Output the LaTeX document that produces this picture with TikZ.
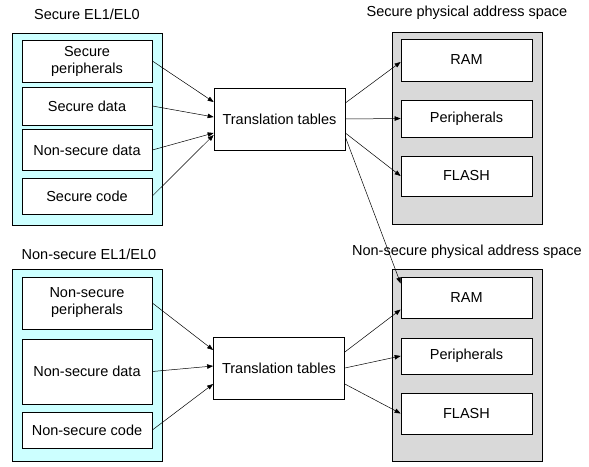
\documentclass[tikz,border=0pt]{standalone}
\usepackage{fontspec}
\setmainfont{Liberation Sans}
\usetikzlibrary{arrows.meta}
\definecolor{elcyan}{RGB}{204,255,255}
\definecolor{memgray}{RGB}{217,217,217}
\tikzset{
  grp/.style={draw, line width=0.7pt, inner sep=0pt, minimum width=150pt, minimum height=192pt},
  blk/.style={draw, fill=white, line width=0.7pt, inner sep=0pt, align=center, minimum width=130pt},
  ttl/.style={inner sep=0pt},
  arr/.style={-{Triangle[length=6pt,width=4.5pt]}, line width=0.5pt},
}
\begin{document}
\begin{tikzpicture}[x=1pt, y=-1pt, font=\fontsize{14.5}{17}\selectfont]
    \useasboundingbox (0,0) rectangle (589,466);
    % secure world
    \begin{scope}
      \node[ttl] (secttl) at (87,14) {Secure EL1/EL0};
      \node[grp, fill=elcyan] (secgrp) at (87.5,129.5) {};
      \node[blk, minimum height=42pt] (sper) at (87,61) {Secure\\peripherals};
      \node[blk, minimum height=38pt] (sdat) at (87,106) {Secure data};
      \node[blk, minimum height=41pt] (nsdat) at (87,150) {Non-secure data};
      \node[blk, minimum height=36pt] (scode) at (87,196) {Secure code};
      \node[blk, minimum width=131pt, minimum height=62pt] (tts) at (279.5,119) {Translation tables};
      \node[ttl] (smemttl) at (467,13) {Secure physical address space};
      \node[grp, fill=memgray] (smem) at (467,128) {};
      \node[blk, minimum width=131pt, minimum height=42pt] (sram) at (466.5,60) {RAM};
      \node[blk, minimum width=131pt, minimum height=37pt] (sperm) at (466.5,118.5) {Peripherals};
      \node[blk, minimum width=131pt, minimum height=40pt] (sflash) at (466.5,176) {FLASH};
      \draw[arr] (sper.east) -- ([yshift=17pt]tts.west);
      \draw[arr] (sdat.east) -- ([yshift=2pt]tts.west);
      \draw[arr] (nsdat.east) -- ([yshift=-14pt]tts.west);
      \draw[arr] (scode.east) -- ([yshift=-16pt]tts.west);
      \draw[arr] ([yshift=16pt]tts.east) -- ([yshift=-2pt]sram.west);
      \draw[arr] (tts.east) -- (sperm.west);
      \draw[arr] ([yshift=-14pt]tts.east) -- (sflash.west);
    \end{scope}
    % non-secure world
    \begin{scope}
      \node[ttl] (nsttl) at (89,254) {Non-secure EL1/EL0};
      \node[grp, fill=elcyan] (nsgrp) at (87,365) {};
      \node[blk, minimum height=52pt] (nsper) at (87,303) {Non-secure\\peripherals};
      \node[blk, minimum height=65pt] (nsdatb) at (87,371.5) {Non-secure data};
      \node[blk, minimum height=36pt] (nscode) at (87,430) {Non-secure code};
      \node[blk, minimum width=131pt, minimum height=62pt] (ttn) at (279,368) {Translation tables};
      \node[ttl] (nsmemttl) at (467,252) {Non-secure physical address space};
      \node[grp, fill=memgray] (nsmem) at (467,365) {};
      \node[blk, minimum width=131pt, minimum height=41pt] (nsram) at (466.5,297.5) {RAM};
      \node[blk, minimum width=131pt, minimum height=36pt] (nsperm) at (466.5,356) {Peripherals};
      \node[blk, minimum width=131pt, minimum height=41pt] (nsflash) at (466.5,413.5) {FLASH};
      \draw[arr] (nsper.east) -- ([yshift=18pt]ttn.west);
      \draw[arr] (nsdatb.east) -- ([yshift=2pt]ttn.west);
      \draw[arr] (nscode.east) -- ([yshift=-16pt]ttn.west);
      \draw[arr] ([yshift=16pt]ttn.east) -- ([yshift=-12pt]nsram.west);
      \draw[arr] (ttn.east) -- (nsperm.west);
      \draw[arr] ([yshift=-16pt]ttn.east) -- (nsflash.west);
    \end{scope}
    % secure tables also reach non-secure RAM
    \draw[arr] ([yshift=-18pt]tts.east) -- ([yshift=14pt]nsram.west);
  \end{tikzpicture}
\end{document}
